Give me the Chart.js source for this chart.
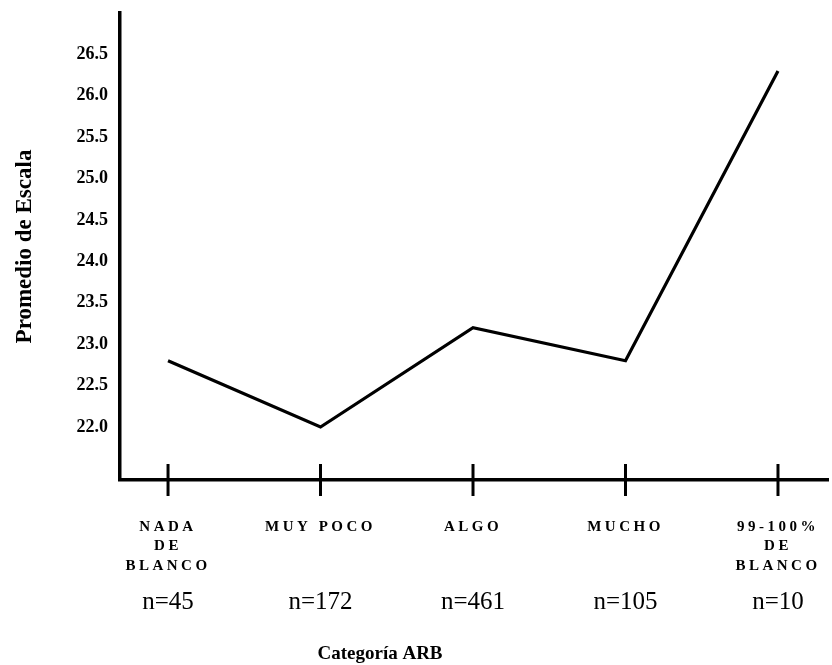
<!DOCTYPE html>
<html>
<head>
<meta charset="utf-8">
<script src="https://cdn.jsdelivr.net/npm/chart.js@4/dist/chart.umd.min.js"></script>
<style>
  html, body { margin: 0; padding: 0; background: #fff; }
  #wrap { width: 832px; height: 665px; }
</style>
</head>
<body>
<div id="wrap"><canvas id="plot1"></canvas></div>
<script>
const categories = [
    ["NADA", "DE", "BLANCO"],
    ["MUY POCO"],
    ["ALGO"],
    ["MUCHO"],
    ["99-100%", "DE", "BLANCO"]
];
const sampleSizes = ["n=45", "n=172", "n=461", "n=105", "n=10"];
const scaleMeans = [22.8, 22.0, 23.2, 22.8, 26.3];
const yTicks = [22.0, 22.5, 23.0, 23.5, 24.0, 24.5, 25.0, 25.5, 26.0, 26.5];

const yMin = 21.36;
const yMax = 27.0;
const serif = "'Liberation Serif', 'DejaVu Serif', serif";

// letter spacing for the category labels, and the x title sits left of centre
const tweakScales = {
    id: "tweakScales",
    afterLayout(chart) {
        const sc = chart.scales.x;
        if (!sc._spaced) {
            const orig = sc.drawLabels.bind(sc);
            sc.drawLabels = (area) => {
                chart.ctx.save();
                chart.ctx.letterSpacing = "3.5px";
                orig(area);
                chart.ctx.restore();
            };
            sc._spaced = true;
        }
        const s2 = chart.scales.x2;
        if (!s2._shifted) {
            const origT = s2.drawTitle.bind(s2);
            s2.drawTitle = () => {
                chart.ctx.save();
                chart.ctx.translate(-94, 0);
                origT();
                chart.ctx.restore();
            };
            s2._shifted = true;
        }
    }
};

const catTicks = (scale) => {
    scale.ticks = categories.map((c, i) => ({ value: i }));
};

const noPad = (s) => {
    s.paddingLeft = 0;
    s.paddingRight = 0;
    s.paddingTop = 0;
    s.paddingBottom = 0;
};

new Chart(document.getElementById("plot1"), {
    type: "line",
    data: {
        datasets: [
            {
                label: "Promedio",
                data: scaleMeans.map((v, i) => ({ x: i, y: v })),
                borderColor: "#000",
                borderWidth: 3.2,
                pointRadius: 0,
                tension: 0,
                clip: false
            },
            {
                // tick marks crossing the category axis
                label: "ticks",
                data: categories.map((c, i) => ({ x: i, y: yMin })),
                showLine: false,
                pointStyle: "line",
                rotation: 90,
                pointRadius: 16,
                pointBorderWidth: 3,
                borderColor: "#000",
                clip: false
            }
        ]
    },
    options: {
        responsive: true,
        maintainAspectRatio: false,
        animation: false,
        layout: { autoPadding: false, padding: { top: 13, right: 4, left: 0, bottom: 0 } },
        plugins: {
            legend: { display: false },
            tooltip: { enabled: false }
        },
        scales: {
            x: {
                type: "linear",
                position: "bottom",
                min: -0.315,
                max: 4.328,
                weight: 0,
                afterBuildTicks: catTicks,
                afterFit: (s) => { s.height = 100; noPad(s); },
                grid: { display: false, drawTicks: false },
                border: { display: true, color: "#000", width: 3.5 },
                ticks: {
                    color: "#000",
                    padding: 38,
                    maxRotation: 0,
                    autoSkip: false,
                    font: { family: serif, size: 15, weight: "bold", lineHeight: 1.27 },
                    callback: (v) => categories[v]
                }
            },
            x2: {
                type: "linear",
                position: "bottom",
                min: -0.315,
                max: 4.328,
                weight: 1,
                afterBuildTicks: catTicks,
                afterFit: (s) => { s.height = 85; noPad(s); },
                grid: { display: false, drawTicks: false },
                border: { display: false },
                ticks: {
                    color: "#000",
                    padding: 8,
                    maxRotation: 0,
                    autoSkip: false,
                    font: { family: serif, size: 25, lineHeight: 1.15 },
                    callback: (v) => sampleSizes[v]
                },
                title: {
                    display: true,
                    text: "Categoría ARB",
                    color: "#000",
                    padding: { top: 0, bottom: 0 },
                    font: { family: serif, size: 19, weight: "bold", lineHeight: 1.2 }
                }
            },
            y: {
                min: yMin,
                max: yMax,
                afterBuildTicks: (s) => { s.ticks = yTicks.map(v => ({ value: v })); },
                afterFit: (s) => { s.width = 120; noPad(s); },
                grid: { display: false, drawTicks: false },
                border: { display: true, color: "#000", width: 3.5 },
                ticks: {
                    color: "#000",
                    padding: 12,
                    font: { family: serif, size: 18, weight: "bold" },
                    callback: (v) => v.toFixed(1)
                },
                title: {
                    display: true,
                    text: "Promedio de Escala",
                    color: "#000",
                    padding: { top: 11, bottom: 0 },
                    font: { family: serif, size: 23, weight: "bold", lineHeight: 1.2 }
                }
            }
        }
    },
    plugins: [tweakScales]
});
</script>
</body>
</html>
